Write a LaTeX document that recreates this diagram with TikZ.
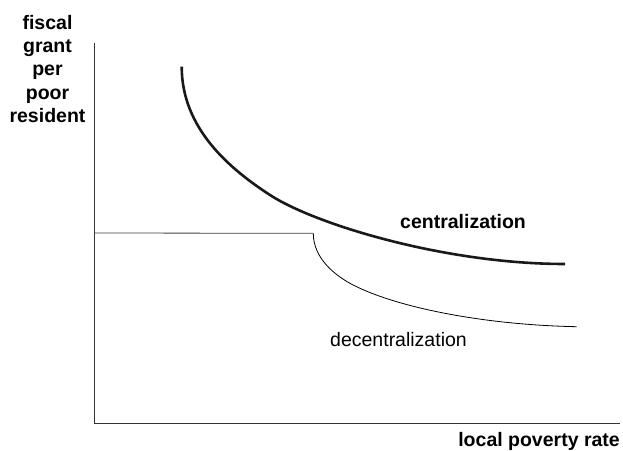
\documentclass[tikz,border=0pt]{standalone}
\usepackage{fontspec}
\setmainfont{Liberation Sans}
\begin{document}
\begin{tikzpicture}[x=1pt,y=-1pt,
  lbl/.style={inner sep=0pt,font=\fontsize{19.5}{23.3}\selectfont},
  axis/.style={draw=black!80,line width=1pt},
  thickcurve/.style={draw=black!90,line width=2.6pt},
  thincurve/.style={draw=black,line width=0.8pt}]
\useasboundingbox (0,0) rectangle (623,450);
\coordinate (O) at (94,423);
\coordinate (ytop) at (94,43);
\coordinate (xend) at (620,423);
\coordinate (flatL) at (94,233);
\coordinate (flatR) at (313.3,233.3);
\coordinate (cstart) at (181.7,66.7);
\coordinate (cmid) at (270,195);
\coordinate (cend) at (565,264);
\coordinate (dmid) at (350,283.3);
\coordinate (dend) at (576.7,326.7);
\draw[axis] (ytop) -- (O) -- (xend);
\draw[thincurve,draw=black!75] (flatL) -- (flatR);
\draw[thickcurve] (cstart) .. controls (181.7,128.7) and (230,169) .. (cmid)
  .. controls (315,224.3) and (445,264) .. (cend);
\draw[thincurve] (flatR) .. controls (313.3,258.3) and (335,275) .. (dmid)
  .. controls (390,305.3) and (476.7,324.7) .. (dend);
\node[lbl,align=center,anchor=north,font=\fontsize{19.5}{23.3}\selectfont\bfseries] (ylab) at (47.5,15) {fiscal\\grant\\per\\poor\\resident};
\node[lbl,font=\fontsize{19.5}{23.3}\selectfont\bfseries] (central) at (463,222) {centralization};
\node[lbl] (decentral) at (398.5,340) {decentralization};
\node[lbl,anchor=base east,font=\fontsize{19.5}{23.3}\selectfont\bfseries] (xlab) at (620,446) {local poverty rate};
\end{tikzpicture}
\end{document}
